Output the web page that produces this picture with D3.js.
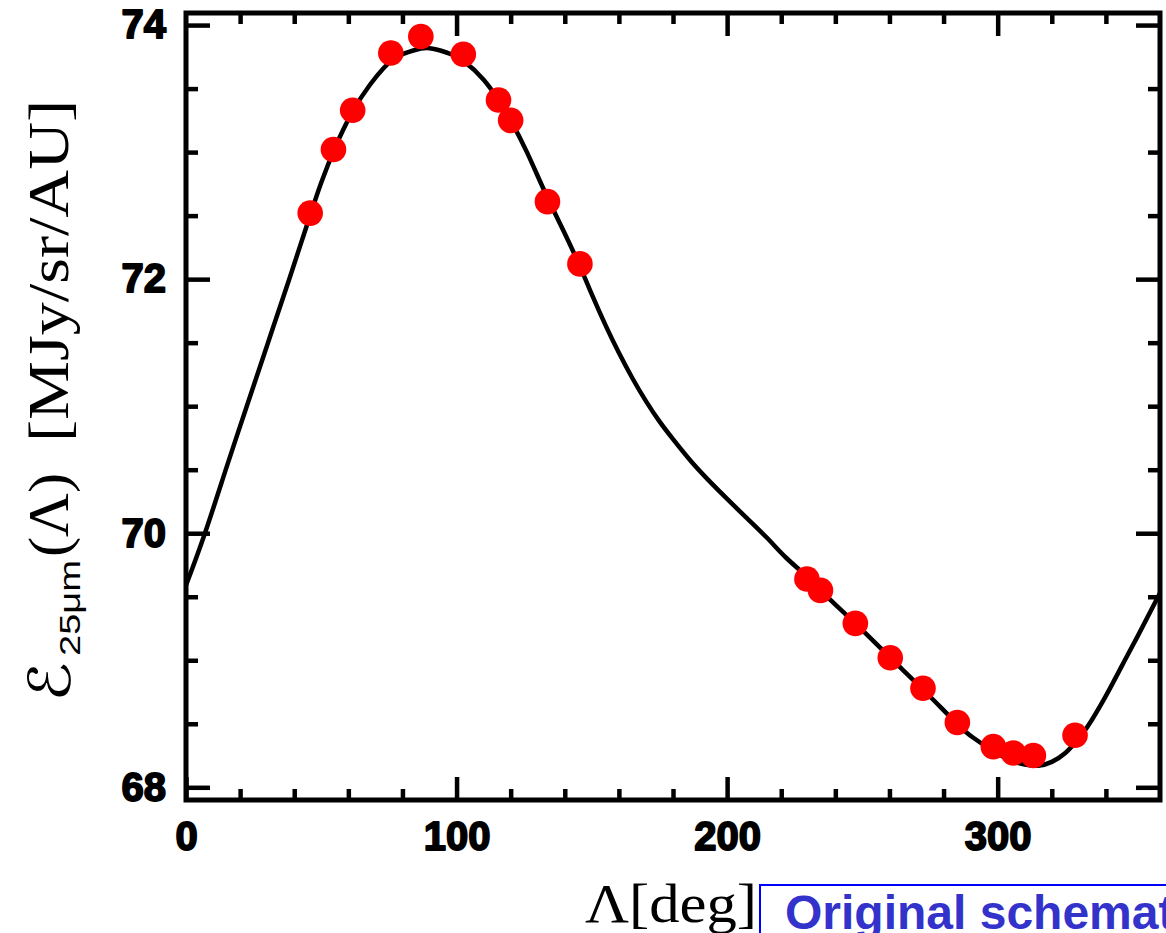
<!DOCTYPE html>
<html>
<head>
<meta charset="utf-8">
<script src="https://cdn.jsdelivr.net/npm/d3@7"></script>
<style>
  html, body { margin: 0; padding: 0; background: #fff; overflow: hidden; }
  svg { display: block; }
</style>
</head>
<body>
<svg id="chart" width="1166" height="933"></svg>
<script>
// Measured 25 micron brightness vs. ecliptic longitude
const obsLambda = [45.9, 54.5, 61.6, 75.7, 86.8, 102.5, 115.5, 120.0, 133.6, 145.6,
                   229.5, 234.5, 247.4, 260.3, 272.4, 285.1, 298.4, 305.8, 313.2, 328.6];
const obsValue  = [72.52, 73.02, 73.33, 73.78, 73.91, 73.77, 73.41, 73.25, 72.61, 72.12,
                   69.64, 69.55, 69.29, 69.02, 68.78, 68.51, 68.32, 68.27, 68.25, 68.41];

// Fitted model curve, sampled along longitude
const fitLambda = [0, 7, 15, 22, 30, 38, 42, 46, 50, 55, 61.6, 68, 73, 78, 84, 89, 94, 98, 103,
                   110, 115.5, 120, 126, 133, 140, 145.6, 150, 155, 160, 165, 170, 175, 180,
                   186.5, 193, 200, 207, 215, 222, 229.5, 234.5, 247.4, 260.3, 272.4, 285,
                   291, 298, 305, 310, 315, 320, 325, 329, 333, 340, 346, 352, 360];
const fitValue  = [69.59, 70.0, 70.52, 70.97, 71.48, 71.99, 72.25, 72.51, 72.76, 73.03, 73.32,
                   73.53, 73.66, 73.75, 73.80, 73.82, 73.80, 73.77, 73.71, 73.57, 73.41, 73.25,
                   73.0, 72.67, 72.36, 72.10, 71.88, 71.64, 71.42, 71.22, 71.04, 70.88, 70.74,
                   70.57, 70.42, 70.27, 70.125, 69.958, 69.803, 69.66, 69.55, 69.29, 69.02, 68.77,
                   68.50, 68.39, 68.29, 68.21, 68.18, 68.17, 68.20, 68.27, 68.36, 68.47, 68.72,
                   68.96, 69.20, 69.53];

// Axis ticks
const xMajorTicks = [0, 100, 200, 300];
const xMinorTicks = [20, 40, 60, 80, 120, 140, 160, 180, 220, 240, 260, 280, 320, 340];
const xTickLabels = ["0", "100", "200", "300"];
const yMajorTicks = [68, 70, 72, 74];
const yMinorTicks = [68.5, 69, 69.5, 70.5, 71, 71.5, 72.5, 73, 73.5];
const yTickLabels = ["68", "70", "72", "74"];

const svg = d3.select("#chart");

const plotL = 186, plotR = 1160, plotT = 13, plotB = 800;
const x = d3.scaleLinear().domain([0, 360]).range([plotL, plotR]);
const y = d3.scaleLinear().domain([67.9, 74.095]).range([plotB, plotT]);

const tickFont = "'Liberation Sans', Arial, sans-serif";

function styleAxis(g, sw) {
  g.select(".domain").remove();
  g.selectAll(".tick line").attr("stroke", "#000").attr("stroke-width", sw);
}
function styleLabels(g) {
  g.selectAll(".tick text")
    .attr("fill", "#000")
    .attr("font-family", tickFont)
    .attr("font-weight", "bold")
    .attr("font-size", 40)
    .attr("stroke", "#000")
    .attr("stroke-width", 1.8)
    .attr("stroke-linejoin", "round");
}

// bottom axis
svg.append("g").attr("transform", `translate(0,${plotB})`)
  .call(d3.axisBottom(x).tickValues(xMinorTicks).tickSizeInner(-11).tickSizeOuter(0).tickFormat(""))
  .call(g => styleAxis(g, 4.5));
svg.append("g").attr("transform", `translate(0,${plotB})`)
  .call(d3.axisBottom(x).tickValues(xMajorTicks).tickSizeInner(-23).tickSizeOuter(0).tickPadding(22)
        .tickFormat((d, i) => xTickLabels[i]))
  .call(g => styleAxis(g, 4.5))
  .call(styleLabels);

// top axis
svg.append("g").attr("transform", `translate(0,${plotT})`)
  .call(d3.axisTop(x).tickValues(xMinorTicks).tickSizeInner(-11).tickSizeOuter(0).tickFormat(""))
  .call(g => styleAxis(g, 4.5));
svg.append("g").attr("transform", `translate(0,${plotT})`)
  .call(d3.axisTop(x).tickValues(xMajorTicks.filter(d => d > 0)).tickSizeInner(-23).tickSizeOuter(0).tickFormat(""))
  .call(g => styleAxis(g, 4.5));

// left axis
svg.append("g").attr("transform", `translate(${plotL},0)`)
  .call(d3.axisLeft(y).tickValues(yMinorTicks).tickSizeInner(-12).tickSizeOuter(0).tickFormat(""))
  .call(g => styleAxis(g, 4.5));
svg.append("g").attr("transform", `translate(${plotL},0)`)
  .call(d3.axisLeft(y).tickValues(yMajorTicks).tickSizeInner(-24).tickSizeOuter(0).tickPadding(20)
        .tickFormat((d, i) => yTickLabels[i]))
  .call(g => styleAxis(g, 4.5))
  .call(styleLabels);

// right axis
svg.append("g").attr("transform", `translate(${plotR},0)`)
  .call(d3.axisRight(y).tickValues(yMinorTicks).tickSizeInner(-12).tickSizeOuter(0).tickFormat(""))
  .call(g => styleAxis(g, 4.5));
svg.append("g").attr("transform", `translate(${plotR},0)`)
  .call(d3.axisRight(y).tickValues(yMajorTicks).tickSizeInner(-24).tickSizeOuter(0).tickFormat(""))
  .call(g => styleAxis(g, 4.5));

// plot frame
svg.append("rect")
  .attr("x", plotL).attr("y", plotT)
  .attr("width", plotR - plotL).attr("height", plotB - plotT)
  .attr("fill", "none").attr("stroke", "#000").attr("stroke-width", 5);

// model curve (natural cubic spline through the samples)
const fit = fitLambda.map((l, i) => [l, fitValue[i]]);
svg.append("path")
  .datum(fit)
  .attr("fill", "none")
  .attr("stroke", "#000")
  .attr("stroke-width", 4.5)
  .attr("stroke-linejoin", "round")
  .attr("d", d3.line().x(d => x(d[0])).y(d => y(d[1])).curve(d3.curveNatural));

// observations
svg.append("g").selectAll("circle")
  .data(obsLambda.map((l, i) => [l, obsValue[i]]))
  .join("circle")
  .attr("cx", d => x(d[0]))
  .attr("cy", d => y(d[1]))
  .attr("r", 12.8)
  .attr("fill", "#ff0000");

// axis titles (serif, rotated for y)
const serif = "'Liberation Serif', 'DejaVu Serif', serif";
function vText(str, bx, startY, len, size, family) {
  svg.append("text")
    .attr("transform", `translate(${bx},${startY}) rotate(-90)`)
    .attr("font-family", family)
    .attr("font-size", size)
    .attr("fill", "#000")
    .attr("textLength", len)
    .attr("lengthAdjust", "spacingAndGlyphs")
    .text(str);
}
vText("\u2130", 70, 702, 40, 58, "'DejaVu Sans', sans-serif");
vText("25\u03BCm", 80, 656, 96, 30, "'Liberation Sans', Arial, sans-serif");
vText("(\u039B)", 68, 557, 84, 58, serif);
vText("[MJy/sr/AU]", 68, 442, 342, 58, serif);

svg.append("text")
  .attr("x", 585).attr("y", 922)
  .attr("font-family", serif)
  .attr("font-size", 54)
  .attr("fill", "#000")
  .attr("textLength", 172)
  .attr("lengthAdjust", "spacingAndGlyphs")
  .text("\u039B[deg]");

// caption box
svg.append("rect")
  .attr("x", 760).attr("y", 885)
  .attr("width", 500).attr("height", 120)
  .attr("fill", "#fff")
  .attr("stroke", "#0000ff")
  .attr("stroke-width", 2);
svg.append("text")
  .attr("x", 785).attr("y", 929)
  .attr("font-family", "'Liberation Sans', Arial, sans-serif")
  .attr("font-weight", "bold")
  .attr("font-size", 48)
  .attr("fill", "#3333cc")
  .text("Original schematic");
</script>
</body>
</html>
